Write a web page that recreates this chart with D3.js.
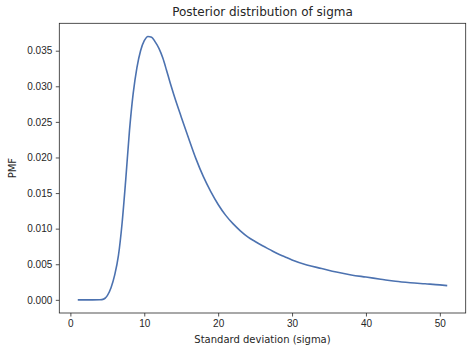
<!DOCTYPE html>
<html>
<head>
<meta charset="utf-8">
<script src="https://cdn.jsdelivr.net/npm/d3@7"></script>
<style>
  body { margin: 0; background: #fff; }
  svg { display: block; font-family: "DejaVu Sans", sans-serif; }
  .tick text { font-size: 10px; fill: #262626; }
  .tick line { stroke: #262626; stroke-width: 0.8; }
  .frame { fill: none; stroke: #262626; stroke-width: 0.8; }
  .pmf { fill: none; stroke: #4c72b0; stroke-width: 1.6; stroke-linejoin: round; }
  .label { font-size: 10px; fill: #262626; }
  .title { font-size: 12px; fill: #262626; }
</style>
</head>
<body>
<svg id="chart" width="472" height="352"></svg>
<script>
// posterior PMF of sigma
const sigma = [1, 2, 3, 4, 4.5, 5, 5.5, 6, 6.5, 7, 7.5, 8, 8.5, 9, 9.5, 10, 10.5, 11, 11.5,
  12, 12.5, 13, 13.5, 14, 15, 16, 17, 18, 19, 20, 21, 22, 23, 24, 25, 26, 27, 28, 29, 30,
  32, 34, 36, 38, 40, 42, 44, 46, 48, 50, 51];
const pmf = [0, 0, 0, 0.00001, 0.0001, 0.0006, 0.0017, 0.0035, 0.0062, 0.0108, 0.0170, 0.0238,
  0.0290, 0.0326, 0.0350, 0.0364, 0.0370, 0.0369, 0.0362,
  0.0353, 0.0340, 0.0323, 0.0305, 0.0288, 0.0257, 0.0227, 0.0198, 0.0173, 0.0152, 0.0134,
  0.0119, 0.0107, 0.0097, 0.00885, 0.0082, 0.0076, 0.00705, 0.0065, 0.00605, 0.0056,
  0.0049, 0.0044, 0.0039, 0.0035, 0.0032, 0.0029, 0.0026, 0.0024, 0.00225, 0.0021, 0.0020];
const xTicks = [0, 10, 20, 30, 40, 50];
const yTicks = [0, 0.005, 0.01, 0.015, 0.02, 0.025, 0.03, 0.035];

const data = sigma.map((s, i) => ({s, p: pmf[i]}));

const margin = {top: 23.3, right: 6.3, bottom: 39, left: 59.3};
const svg = d3.select('#chart');
const width = +svg.attr('width') - margin.left - margin.right;
const height = +svg.attr('height') - margin.top - margin.bottom;

// matplotlib-style 5% padding around the data
const [x0, x1] = d3.extent(sigma);
const [y0, y1] = [0, d3.max(pmf)];
const px = (x1 - x0) * 0.05, py = (y1 - y0) * 0.05;
const x = d3.scaleLinear().domain([x0 - px, x1 + px]).range([0, width]);
const y = d3.scaleLinear().domain([y0 - py, y1 + py]).range([height, 0]);

const g = svg.append('g').attr('transform', `translate(${margin.left}, ${margin.top})`);

g.append('path')
  .datum(data)
  .attr('class', 'pmf')
  .attr('d', d3.line().x(d => x(d.s)).y(d => y(d.p)).curve(d3.curveMonotoneX));

g.append('g')
  .attr('transform', `translate(0, ${height})`)
  .call(d3.axisBottom(x).tickValues(xTicks).tickSize(3.5).tickPadding(3.5).tickFormat(d3.format('d')))
  .call(a => a.select('.domain').remove());

g.append('g')
  .call(d3.axisLeft(y).tickValues(yTicks).tickSize(3.5).tickPadding(3.5).tickFormat(d3.format('.3f')))
  .call(a => a.select('.domain').remove());

g.selectAll('.tick text').attr('font-family', null);

g.append('rect')
  .attr('class', 'frame')
  .attr('width', width)
  .attr('height', height);

g.append('text')
  .attr('class', 'title')
  .attr('x', width / 2)
  .attr('y', -7)
  .attr('text-anchor', 'middle')
  .text('Posterior distribution of sigma');

g.append('text')
  .attr('class', 'label')
  .attr('x', width / 2)
  .attr('y', height + 30)
  .attr('text-anchor', 'middle')
  .text('Standard deviation (sigma)');

g.append('text')
  .attr('class', 'label')
  .attr('transform', `translate(${-margin.left + 15.5}, ${height / 2}) rotate(-90)`)
  .attr('text-anchor', 'middle')
  .text('PMF');
</script>
</body>
</html>
